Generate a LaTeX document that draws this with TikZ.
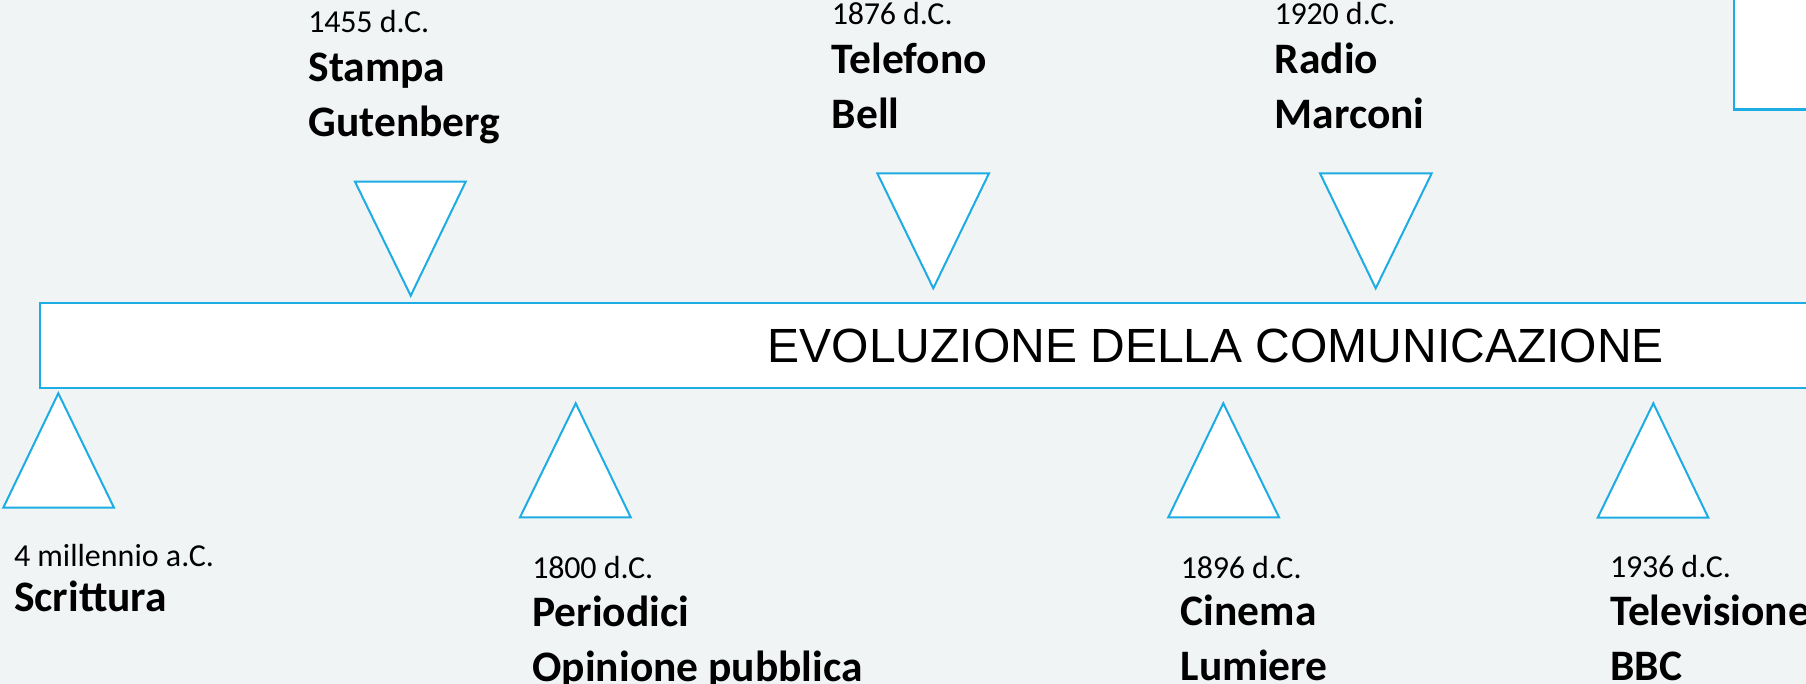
\documentclass[tikz,border=0pt]{standalone}
\usepackage{fontspec}
\setmainfont{Carlito}
\newfontfamily\arialf{Liberation Sans}
\newcommand\dg[1]{\makebox[0.5em][c]{#1}}
\definecolor{bg}{HTML}{F1F4F5}
\definecolor{lineblue}{HTML}{1DACE3}
\begin{document}
\begin{tikzpicture}[x=1pt,y=-1pt,
  tri/.style={draw=lineblue, fill=white, line width=2pt, line join=miter},
  box/.style={draw=lineblue, fill=white},
  datetxt/.style={anchor=base west, inner sep=0pt, font=\fontsize{32}{38}\selectfont},
  titletxt/.style={anchor=base west, inner sep=0pt, font=\fontsize{43.5}{52}\selectfont\bfseries},
  maintxt/.style={anchor=base, inner sep=0pt, font=\arialf\fontsize{48}{56}\selectfont}]
\useasboundingbox (0,0) rectangle (1806,684);
\fill[bg] (0,0) rectangle (1806,684);
\clip (0,0) rectangle (1806,684);
% top-right box
\draw[box, line width=2.7pt] (1734,-20) rectangle (1900,109.3);
% main bar
\draw[box, line width=2pt] (40,303.5) rectangle (2400,388);
\node[maintxt] (title) at (1215.8,362.7) {EVOLUZIONE DELLA COMUNICAZIONE};
% downward triangles
\draw[tri] (355,181.7) -- (465.7,181.7) -- (410.7,295.7) -- cycle;
\draw[tri] (877.3,173.3) -- (989,173.3) -- (933.3,288.3) -- cycle;
\draw[tri] (1320,173.3) -- (1431.7,173.3) -- (1375.7,288.3) -- cycle;
% upward triangles
\draw[tri] (3.3,507.7) -- (114,507.7) -- (58.3,393.3) -- cycle;
\draw[tri] (520,517.3) -- (630.7,517.3) -- (575.7,403.3) -- cycle;
\draw[tri] (1168.3,517.3) -- (1279,517.3) -- (1223.3,403.3) -- cycle;
\draw[tri] (1597.7,517.7) -- (1708.3,517.7) -- (1653.3,403.3) -- cycle;
% top labels
\node[datetxt] (d1455) at (308.3,32.3) {\dg1\dg4\dg5\dg5 d.C.};
\node[titletxt] (stampa) at (308.3,81.7) {Stampa};
\node[titletxt] (gutenberg) at (308.3,136.7) {Gutenberg};
\node[datetxt] (d1876) at (831.7,25) {\dg1\dg8\dg7\dg6 d.C.};
\node[titletxt] (telefono) at (831.7,74) {Telefono};
\node[titletxt] (bell) at (831.7,128.3) {Bell};
\node[datetxt] (d1920) at (1274.5,25) {\dg1\dg9\dg2\dg0 d.C.};
\node[titletxt] (radio) at (1274.5,74) {Radio};
\node[titletxt] (marconi) at (1274.5,128.3) {Marconi};
% bottom labels
\node[datetxt] (dmill) at (14,566) {\dg4 millennio a.C.};
\node[titletxt] (scrittura) at (14,611.7) {Scrittura};
\node[datetxt] (d1800) at (532.3,578.3) {\dg1\dg8\dg0\dg0 d.C.};
\node[titletxt] (periodici) at (532.3,626) {Periodici};
\node[titletxt] (opinione) at (532.3,681) {Opinione pubblica};
\node[datetxt] (d1896) at (1180.7,578.3) {\dg1\dg8\dg9\dg6 d.C.};
\node[titletxt] (cinema) at (1180.7,625) {Cinema};
\node[titletxt] (lumiere) at (1180.7,680) {Lumiere};
\node[datetxt] (d1936) at (1610,577.7) {\dg1\dg9\dg3\dg6 d.C.};
\node[titletxt] (televisione) at (1610,625) {Televisione};
\node[titletxt] (bbc) at (1610,680) {BBC};
\end{tikzpicture}
\end{document}
